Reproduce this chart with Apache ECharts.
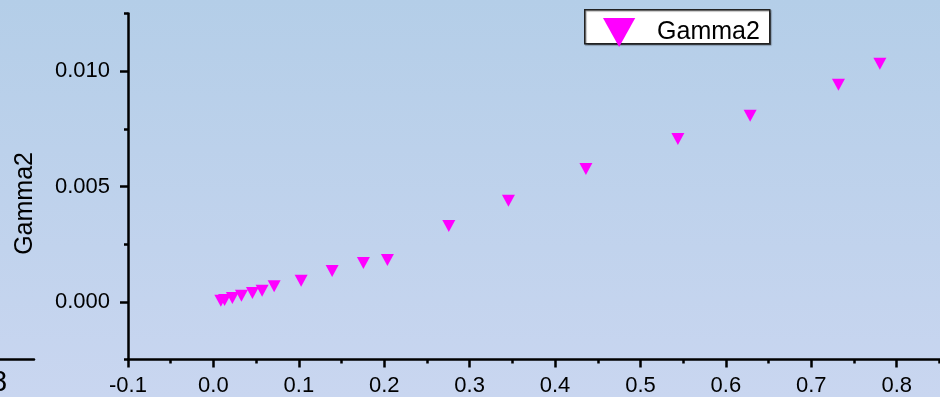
<!DOCTYPE html>
<html>
<head>
<meta charset="utf-8">
<script src="https://cdn.jsdelivr.net/npm/echarts@6/dist/echarts.min.js"></script>
<style>html,body{margin:0;padding:0;}#c{width:940px;height:397px;}</style>
</head>
<body>
<div id="c"></div>
<script>
const seriesName = 'Gamma2';
const xValues = [0.0087, 0.0131, 0.0222, 0.0328, 0.0457, 0.0570, 0.0711, 0.1027, 0.1390, 0.1756, 0.2037, 0.2756, 0.3454, 0.4361, 0.5438, 0.6284, 0.7318, 0.7803];
const yValues = [0.000043, 0.000074, 0.00016, 0.00026, 0.00038, 0.00048, 0.00067, 0.00091, 0.00134, 0.00168, 0.00181, 0.00329, 0.00438, 0.00576, 0.00706, 0.00806, 0.00941, 0.01032];
const xMajorTicks = [-0.1, 0.0, 0.1, 0.2, 0.3, 0.4, 0.5, 0.6, 0.7, 0.8];
const xMinorTicks = [-0.05, 0.05, 0.15, 0.25, 0.35, 0.45, 0.55, 0.65, 0.75, 0.85];
const yMajorTicks = [0, 0.005, 0.010];
const yMinorTicks = [-0.0025, 0.0025, 0.0075, 0.0125];
const leftPanelTicks = [0.8];

const FONT = 'Arial, "Liberation Sans", sans-serif';
const tri = 'path://M0,0L10,0L5,9Z';
const axisLine = {show: true, onZero: false, lineStyle: {color: '#000', width: 2.5}};
const X_MIN = -0.1, X_MAX = 0.8507;

const chart = echarts.init(document.getElementById('c'));
chart.setOption({
  animation: false,
  backgroundColor: {type: 'linear', x: 0, y: 0, x2: 0, y2: 1, colorStops: [
    {offset: 0, color: '#b4cee8'}, {offset: 1, color: '#c9d6f0'}]},
  graphic: [{
    type: 'rect', z: 1, left: 584, top: 9,
    shape: {width: 185, height: 34},
    style: {fill: '#fff', stroke: '#222', lineWidth: 1.5, shadowColor: 'rgba(0,0,0,0.4)', shadowOffsetX: 1, shadowOffsetY: 1, shadowBlur: 1}
  }],
  legend: {
    left: 603, top: 18, padding: 0, z: 10,
    itemWidth: 34, itemHeight: 29,
    data: [{name: seriesName, icon: tri}],
    textStyle: {fontFamily: FONT, fontSize: 25, color: '#000', padding: [0, 0, 0, 16]}
  },
  grid: [
    {left: 128, right: 0, top: 13.4, bottom: 37.5},
    {left: -107, width: 141, top: 13.4, bottom: 37.5, outerBoundsMode: 'none', containLabel: false}
  ],
  xAxis: [{
    type: 'value', gridIndex: 0, min: X_MIN, max: X_MAX,
    axisLine: axisLine,
    axisTick: {show: true, length: 8, customValues: xMajorTicks, lineStyle: {color: '#000', width: 2.5}},
    splitLine: {show: false},
    axisLabel: {margin: 15, fontFamily: FONT, fontSize: 22, color: '#000',
      customValues: xMajorTicks, formatter: v => v.toFixed(1)}
  }, {
    type: 'value', gridIndex: 0, position: 'bottom', min: X_MIN, max: X_MAX,
    axisLine: {show: false, onZero: false},
    axisTick: {show: true, length: 4, customValues: xMinorTicks, lineStyle: {color: '#000', width: 2.5}},
    splitLine: {show: false},
    axisLabel: {show: false}
  }, {
    type: 'value', gridIndex: 1, min: 0.7, max: 0.85,
    axisLine: axisLine,
    axisTick: {show: false},
    splitLine: {show: false},
    axisLabel: {margin: 9, fontFamily: FONT, fontSize: 29, color: '#000',
      customValues: leftPanelTicks, formatter: v => v.toFixed(1)}
  }],
  yAxis: [{
    type: 'value', gridIndex: 0, min: -0.0025, max: 0.0125,
    axisLine: axisLine,
    axisTick: {show: true, length: 8, customValues: yMajorTicks, lineStyle: {color: '#000', width: 2.5}},
    splitLine: {show: false},
    axisLabel: {margin: 18, fontFamily: FONT, fontSize: 22, color: '#000',
      customValues: yMajorTicks, formatter: v => v.toFixed(3)},
    name: seriesName, nameLocation: 'middle', nameRotate: 90, nameGap: 90,
    nameTextStyle: {fontFamily: FONT, fontSize: 25, color: '#000', padding: [0, 34, 0, 0]}
  }, {
    type: 'value', gridIndex: 0, position: 'left', min: -0.0025, max: 0.0125,
    axisLine: {show: false, onZero: false},
    axisTick: {show: true, length: 4, customValues: yMinorTicks, lineStyle: {color: '#000', width: 2.5}},
    splitLine: {show: false},
    axisLabel: {show: false}
  }, {
    type: 'value', gridIndex: 1, min: 0, max: 1, show: false
  }],
  series: [{
    name: seriesName, type: 'scatter', xAxisIndex: 0, yAxisIndex: 0,
    symbol: tri, symbolSize: [13, 12],
    itemStyle: {color: '#ff00ff', opacity: 1},
    data: xValues.map((x, i) => [x, yValues[i]])
  }]
});
</script>
</body>
</html>
